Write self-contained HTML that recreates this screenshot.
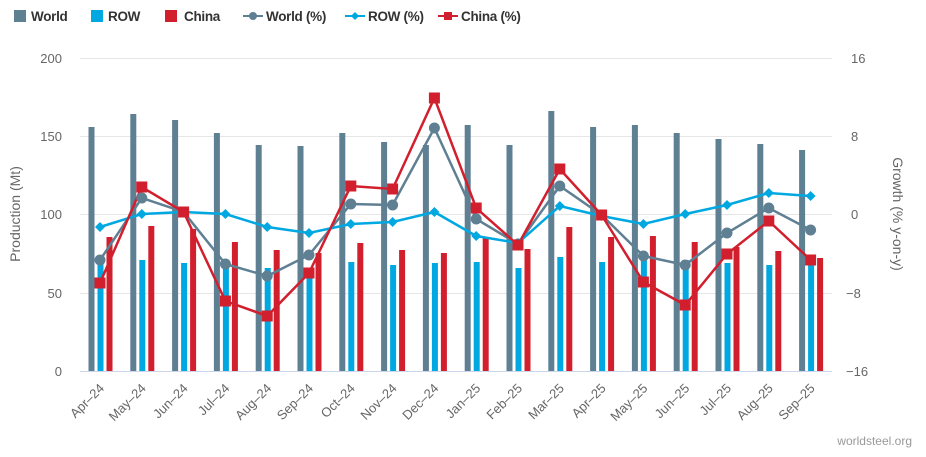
<!DOCTYPE html>
<html><head><meta charset="utf-8"><style>
html,body{margin:0;padding:0;background:#fff;}
svg{display:block;font-family:"Liberation Sans",sans-serif;}
</style></head><body>
<svg id="c" width="926" height="457" viewBox="0 0 926 457" xmlns="http://www.w3.org/2000/svg">
<g stroke="#e6e6e6" stroke-width="1">
<line x1="80" x2="832" y1="58.5" y2="58.5"/>
<line x1="80" x2="832" y1="136.5" y2="136.5"/>
<line x1="80" x2="832" y1="214.5" y2="214.5"/>
<line x1="80" x2="832" y1="293.5" y2="293.5"/>
</g>
<line x1="80" x2="832" y1="371.5" y2="371.5" stroke="#ccd6eb"/>
<g font-size="13" fill="#666" text-anchor="end">
<text x="62" y="63">200</text><text x="62" y="141">150</text><text x="62" y="219">100</text><text x="62" y="298">50</text><text x="62" y="376">0</text>
</g>
<g font-size="13" fill="#666">
<text x="851" y="63">16</text><text x="851" y="141">8</text><text x="851" y="219">0</text><text x="846" y="298">−8</text><text x="846" y="376">−16</text>
</g>
<text transform="translate(20,214) rotate(-90)" text-anchor="middle" font-size="14" fill="#666">Production (Mt)</text>
<text transform="translate(893,214) rotate(90)" text-anchor="middle" font-size="14" fill="#666">Growth (% y-on-y)</text>
<text x="912" y="445" text-anchor="end" font-size="12" fill="#999">worldsteel.org</text>
<g id="bars"></g>
<g id="lines"></g>
<g id="xl" font-size="13" fill="#666" text-anchor="end"></g>
<g font-size="13.5" font-weight="bold" fill="#333" letter-spacing="-0.3">
<rect x="14" y="10" width="12" height="12" fill="#5f7f93"/><text x="31" y="21">World</text>
<rect x="91" y="10" width="12" height="12" fill="#00a8e1"/><text x="108" y="21">ROW</text>
<rect x="165" y="10" width="12" height="12" fill="#d11f2e"/><text x="184" y="21">China</text>
<line x1="243" x2="263" y1="16" y2="16" stroke="#5f7f93" stroke-width="2"/><circle cx="253" cy="16" r="4" fill="#5f7f93"/><text x="266" y="21">World (%)</text>
<line x1="345" x2="365" y1="16" y2="16" stroke="#00a8e1" stroke-width="2"/><path d="M355 12 L359 16 L355 20 L351 16Z" fill="#00a8e1"/><text x="368" y="21">ROW (%)</text>
<line x1="438" x2="458" y1="16" y2="16" stroke="#d11f2e" stroke-width="2"/><rect x="444" y="12" width="8" height="8" fill="#d11f2e"/><text x="461" y="21">China (%)</text>
</g>
</svg>
<script>
var ns="http://www.w3.org/2000/svg";
var months=["Apr-24","May-24","Jun-24","Jul-24","Aug-24","Sep-24","Oct-24","Nov-24","Dec-24","Jan-25","Feb-25","Mar-25","Apr-25","May-25","Jun-25","Jul-25","Aug-25","Sep-25"];
var wT=[127,114,120,133,145,146,133,142,145,125,145,111,127,125,133,139,144,150];
var rT=[262,260,263,265,268,270,262,265,263,262,268,257,262,260,260,263,265,262];
var cT=[237,226,229,242,250,253,243,250,253,237,249,227,237,236,242,247,251,258];
var wL=[260,198,212,264,276,255,204,205,128,219,244,186,215,256,265,233,208,230];
var rL=[227,214,212,214,227,233,224,222,212,236,243,206,216,224,214,205,193,196];
var cL=[283,187,212,301,316,273,186,189,98,208,245,169,215,282,305,254,221,260];
var B=document.getElementById("bars"),L=document.getElementById("lines"),X=document.getElementById("xl");
function el(t,a,p){var e=document.createElementNS(ns,t);for(var k in a)e.setAttribute(k,a[k]);p.appendChild(e);return e;}
var cx=[];
for(var i=0;i<18;i++){
 var c=100+41.8*i;cx.push(c);
 el("rect",{x:c-11.5,y:wT[i],width:6,height:371-wT[i],fill:"#5f7f93"},B);
 el("rect",{x:c-2.5,y:rT[i],width:6,height:371-rT[i],fill:"#00a8e1"},B);
 el("rect",{x:c+6.5,y:cT[i],width:6,height:371-cT[i],fill:"#d11f2e"},B);
 var t=el("text",{transform:"translate("+(c+5)+",389) rotate(-45)"},X);t.textContent=months[i].replace("-","–");
}
function line(ys,col){var p=ys.map(function(y,i){return cx[i]+","+y}).join(" ");el("polyline",{points:p,fill:"none",stroke:col,"stroke-width":2.5},L);}
line(wL,"#5f7f93");line(rL,"#00a8e1");line(cL,"#d11f2e");
for(var i=0;i<18;i++){
 el("circle",{cx:cx[i],cy:wL[i],r:5.5,fill:"#5f7f93"},L);
 el("path",{d:"M"+cx[i]+" "+(rL[i]-5)+" l5 5 l-5 5 l-5 -5z",fill:"#00a8e1"},L);
 el("rect",{x:cx[i]-5.5,y:cL[i]-5.5,width:11,height:11,fill:"#d11f2e"},L);
}
</script>
</body></html>
